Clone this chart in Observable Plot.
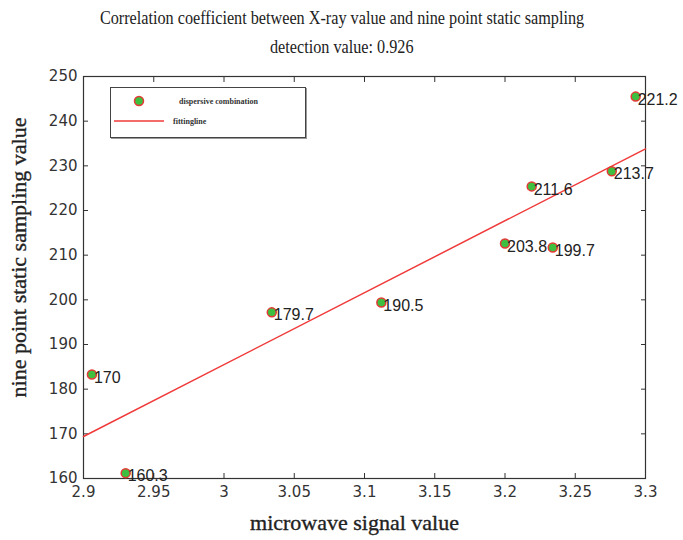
<!DOCTYPE html>
<html><head><meta charset="utf-8">
<script src="https://cdn.jsdelivr.net/npm/d3@7"></script>
<script src="https://cdn.jsdelivr.net/npm/@observablehq/plot@0.6"></script>
<style>
body{margin:0;background:#fff;}
#wrap{position:relative;width:683px;height:540px;overflow:hidden;}
#title{height:62px;padding-top:4px;box-sizing:border-box;text-align:center;font-family:"Liberation Serif",serif;font-size:18px;line-height:29px;color:#222;}
#title span{display:inline-block;transform:scaleX(0.9);white-space:nowrap;}
#legend{position:absolute;left:110px;top:87px;width:194px;height:49px;border:1px solid #444;background:#fff;box-shadow:1px 1px 0 #999;}
</style></head>
<body><div id="wrap">
<div id="title"><span>Correlation coefficient between X-ray value and nine point static sampling</span><br><span>detection value: 0.926</span></div>
<div id="chart"></div>
<div id="legend">
<svg width="194" height="49" style="position:absolute;left:0;top:0">
<circle cx="28" cy="13" r="4.5" fill="#3fbf3f" stroke="#e53935" stroke-width="1.5"/>
<text x="68" y="16" font-family="Liberation Serif" font-size="8" font-weight="bold" fill="#333">dispersive combination</text>
<line x1="3" y1="33" x2="53" y2="33" stroke="#f03a3a" stroke-width="1.5"/>
<text x="62" y="36" font-family="Liberation Serif" font-size="8" font-weight="bold" fill="#333">fittingline</text>
</svg>
</div>
</div>
<script>
const microwave = [2.906, 2.930, 3.034, 3.112, 3.200, 3.234, 3.219, 3.276, 3.293];
const staticValue = [183.3, 161.2, 197.2, 199.4, 212.6, 211.7, 225.4, 228.8, 245.5];
const pointLabels = ["170", "160.3", "179.7", "190.5", "203.8", "199.7", "211.6", "213.7", "221.2"];
const fitX = [2.9, 3.3];
const fitY = [169.4, 233.8];
const xTicks = [2.9, 2.95, 3, 3.05, 3.1, 3.15, 3.2, 3.25, 3.3];
const yTicks = [160, 170, 180, 190, 200, 210, 220, 230, 240, 250];
const xTitle = "microwave signal value";
const yTitle = "nine point static sampling value";

const pts = microwave.map((x, i) => ({x, y: staticValue[i], label: pointLabels[i]}));
const fit = fitX.map((x, i) => ({x, y: fitY[i]}));

const chart = Plot.plot({
  width: 683, height: 478,
  marginTop: 14, marginBottom: 62, marginLeft: 83, marginRight: 38,
  style: {fontFamily: "DejaVu Sans, sans-serif", fontSize: "15px", color: "#333", background: "white", overflow: "visible"},
  x: {domain: [2.9, 3.3]},
  y: {domain: [160, 250]},
  marks: [
    Plot.frame({stroke: "#333", strokeWidth: 1.2}),
    Plot.axisX(xTicks, {tickSize: -5, tickPadding: 13, tickFormat: d => String(d), label: null, stroke: "#333"}),
    Plot.axisX(xTicks, {anchor: "top", tickSize: -5, tickFormat: () => "", label: null}),
    Plot.axisY(yTicks, {tickSize: -5, tickPadding: 11, label: null}),
    Plot.axisY(yTicks, {anchor: "right", tickSize: -5, tickFormat: () => "", label: null}),
    Plot.line(fit, {x: "x", y: "y", stroke: "#f03a3a", strokeWidth: 1.5}),
    Plot.dot(pts, {x: "x", y: "y", r: 4.5, fill: "#3fbf3f", stroke: "#e53935", strokeWidth: 1.5}),
    Plot.text(pts, {x: "x", y: "y", text: "label", textAnchor: "start", dx: 2, dy: 3, fill: "#222", fontSize: 16, fontFamily: "Liberation Sans, Arial, sans-serif"}),
    Plot.text([xTitle], {frameAnchor: "bottom", textAnchor: "middle", lineAnchor: "middle", dx: -10, dy: 44, fontSize: 22, fill: "#222", stroke: "#222", strokeWidth: 0.35, fontFamily: "Liberation Serif"}),
    Plot.text([yTitle], {frameAnchor: "left", textAnchor: "middle", lineAnchor: "middle", dx: -65, dy: -20, rotate: -90, fontSize: 22, fill: "#222", stroke: "#222", strokeWidth: 0.35, fontFamily: "Liberation Serif"})
  ]
});
document.getElementById("chart").appendChild(chart);
</script>
</body></html>
